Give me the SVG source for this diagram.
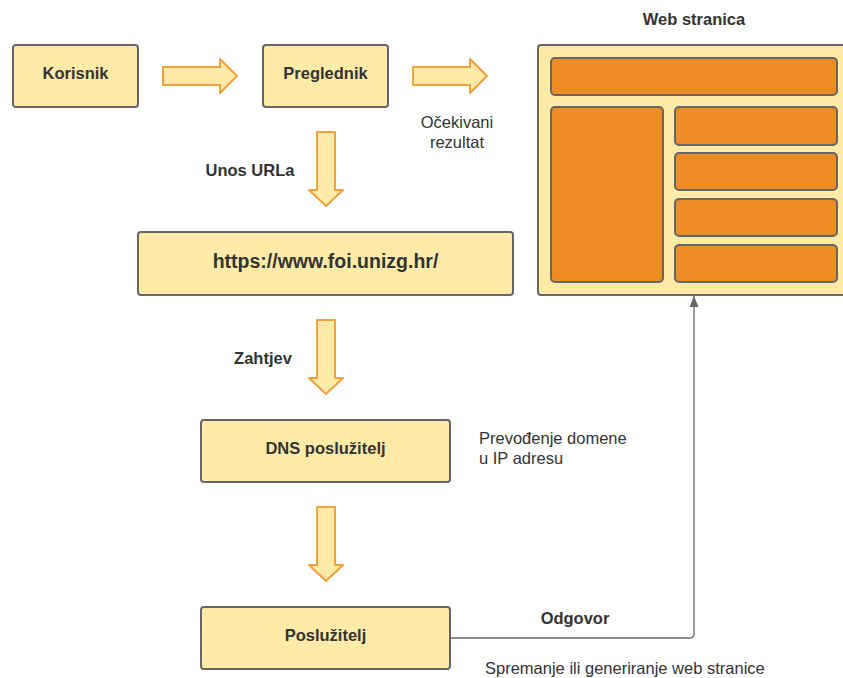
<svg xmlns="http://www.w3.org/2000/svg" width="843" height="678" viewBox="0 0 843 678">
<defs>
<style>
.node{fill:#FFEBA7;stroke:#666;stroke-width:2}
.blk{fill:#EE8C24;stroke:#666;stroke-width:2}
.arr{fill:#FFEBA7;stroke:#F3A03E;stroke-width:2;stroke-linejoin:round}
.b{font-family:"Liberation Sans",Arial,sans-serif;font-weight:bold;font-size:16.5px;fill:#333;text-anchor:middle}
.r{font-family:"Liberation Sans",Arial,sans-serif;font-size:16.5px;fill:#333}
.line{fill:none;stroke:#666;stroke-width:1.3}
</style>
<marker id="ah" markerWidth="12" markerHeight="12" refX="11" refY="4.5" orient="auto" markerUnits="userSpaceOnUse" viewBox="0 0 12 9">
<path d="M0,0 L11,4.5 L0,9 Z" fill="#666"/>
</marker>
</defs>
<rect width="843" height="678" fill="#fff"/>
<g id="korisnik"><rect class="node" x="13" y="45" width="125" height="62" rx="3"/><text class="b" x="75.5" y="79">Korisnik</text></g>
<g id="preglednik"><rect class="node" x="263" y="45" width="125" height="62" rx="3"/><text class="b" x="325.5" y="79">Preglednik</text></g>
<g id="url"><rect class="node" x="138" y="232" width="375" height="63" rx="3"/><text class="b" x="325.5" y="268" style="font-size:19.5px">https://www.foi.unizg.hr/</text></g>
<g id="dns"><rect class="node" x="201" y="420" width="249" height="62" rx="3"/><text class="b" x="325.5" y="454">DNS poslužitelj</text></g>
<g id="posluzitelj"><rect class="node" x="201" y="607" width="249" height="62" rx="3"/><text class="b" x="325.5" y="641">Poslužitelj</text></g>
<g id="webstranica">
<text class="b" x="694" y="25">Web stranica</text>
<rect class="node" x="538" y="45" width="320" height="250" rx="3"/>
<rect class="blk" x="551" y="58" width="286" height="37" rx="4"/>
<rect class="blk" x="551" y="107" width="112" height="175" rx="4"/>
<rect class="blk" x="675" y="107" width="162" height="38" rx="4"/>
<rect class="blk" x="675" y="153" width="162" height="37" rx="4"/>
<rect class="blk" x="675" y="199" width="162" height="37" rx="4"/>
<rect class="blk" x="675" y="245" width="162" height="37" rx="4"/>
</g>
<g id="connectors">
<path class="arr" d="M163,67 H220 V59 L237,76 L220,93 V85 H163 Z"/>
<path class="arr" d="M413,67 H470 V59 L487,76 L470,93 V85 H413 Z"/>
<path class="arr" d="M317,132 H335 V190 H343 L326,206 L309,190 H317 Z"/>
<path class="arr" d="M317,320 H335 V378 H343 L326,394 L309,378 H317 Z"/>
<path class="arr" d="M317,507 H335 V565 H343 L326,581 L309,565 H317 Z"/>
<path class="line" d="M450,638 H690 Q694,638 694,634 V296" marker-end="url(#ah)"/>
</g>
<g id="labels">
<text class="r" x="457" y="128" text-anchor="middle">Očekivani</text>
<text class="r" x="457" y="148" text-anchor="middle">rezultat</text>
<text class="b" x="250" y="176">Unos URLa</text>
<text class="b" x="263" y="364">Zahtjev</text>
<text class="r" x="479" y="444">Prevođenje domene</text>
<text class="r" x="479" y="464">u IP adresu</text>
<text class="b" x="575" y="624">Odgovor</text>
<text class="r" x="485" y="674">Spremanje ili generiranje web stranice</text>
</g>
</svg>
